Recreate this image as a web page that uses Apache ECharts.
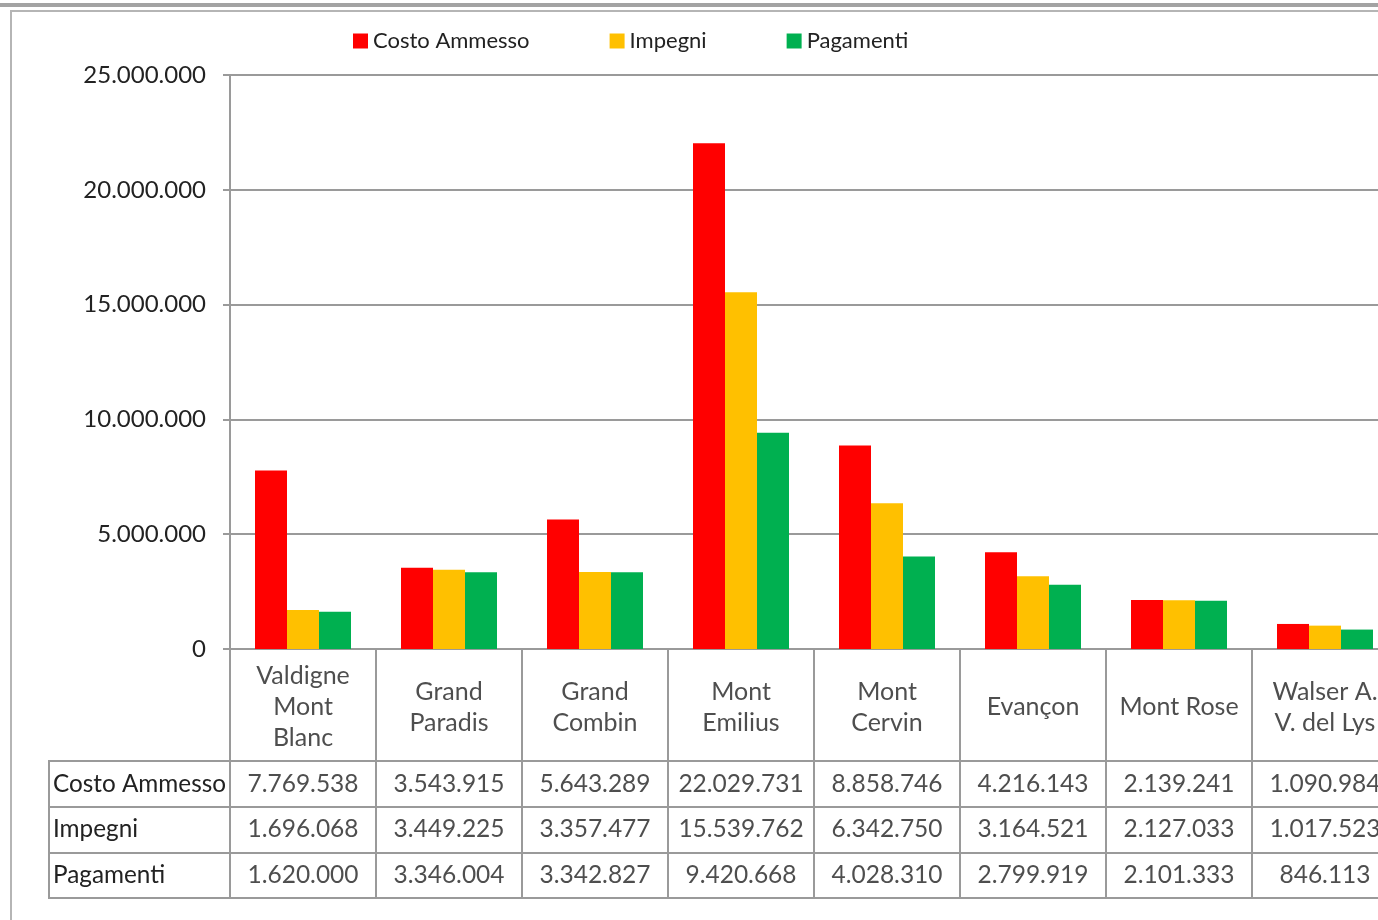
<!DOCTYPE html>
<html>
<head>
<meta charset="utf-8">
<script src="https://cdn.jsdelivr.net/npm/echarts@6/dist/echarts.min.js"></script>
<style>
html,body{margin:0;padding:0;overflow:hidden;background:#fff;}
#c{width:1400px;height:920px;}
</style>
</head>
<body>
<div id="c"></div>
<script>
const categories = ['Valdigne Mont Blanc','Grand Paradis','Grand Combin','Mont Emilius','Mont Cervin','Evançon','Mont Rose','Walser A. V. del Lys'];
const headerLabels = ['Valdigne\nMont\nBlanc','Grand\nParadis','Grand\nCombin','Mont\nEmilius','Mont\nCervin','Evançon','Mont Rose','Walser A.\nV. del Lys'];
const seriesNames = ['Costo Ammesso','Impegni','Pagamenti'];
const costoAmmesso = [7769538, 3543915, 5643289, 22029731, 8858746, 4216143, 2139241, 1090984];
const impegni = [1696068, 3449225, 3357477, 15539762, 6342750, 3164521, 2127033, 1017523];
const pagamenti = [1620000, 3346004, 3342827, 9420668, 4028310, 2799919, 2101333, 846113];
const yTicks = [0, 5000000, 10000000, 15000000, 20000000, 25000000];

const colors = ['#FF0000', '#FFC000', '#00B050'];
const allValues = [costoAmmesso, impegni, pagamenti];
const FONT = 'Lato';
const TXT = '#222';
const LINE = '#9a9a9a';

function fmt(v){ return String(Math.round(v)).replace(/\B(?=(\d{3})+(?!\d))/g, '.'); }

const chart = echarts.init(document.getElementById('c'));

const G = {left: 230, width: 1168};

const option = {
  animation: false,
  textStyle: {fontFamily: FONT},
  graphic: [
    {type: 'rect', shape: {x: 0, y: 3, width: 1400, height: 4}, style: {fill: '#a3a3a3'}, silent: true},
    {type: 'rect', shape: {x: 10, y: 10, width: 1390, height: 2}, style: {fill: '#b5b5b5'}, silent: true},
    {type: 'rect', shape: {x: 10, y: 10, width: 2, height: 920}, style: {fill: '#b5b5b5'}, silent: true}
  ],
  legend: {
    data: seriesNames,
    left: 353, top: 30, padding: 0,
    itemWidth: 15, itemHeight: 15, itemGap: 80,
    icon: 'rect',
    textStyle: {fontFamily: FONT, fontSize: 22, color: TXT}
  },
  grid: [
    {left: G.left, top: 75, width: G.width, height: 574},
    {left: G.left, top: 649, width: G.width, height: 112, show: true, borderColor: LINE, borderWidth: 2, backgroundColor: 'transparent'},
    {left: G.left, top: 761, width: G.width, height: 137, show: true, borderColor: LINE, borderWidth: 2, backgroundColor: 'transparent'},
    {left: 49, top: 761, width: 181, height: 137, show: true, borderColor: LINE, borderWidth: 2, backgroundColor: 'transparent'}
  ],
  xAxis: [
    {gridIndex: 0, type: 'category', data: categories, boundaryGap: true,
      axisLine: {show: true, lineStyle: {color: LINE, width: 2}}, axisTick: {show: false}, axisLabel: {show: false}, splitLine: {show: false}},
    {gridIndex: 1, type: 'category', data: categories, boundaryGap: true,
      axisLine: {show: false}, axisTick: {show: false}, axisLabel: {show: false},
      splitLine: {show: true, interval: 0, lineStyle: {color: LINE, width: 2}}},
    {gridIndex: 2, type: 'category', data: categories, boundaryGap: true,
      axisLine: {show: false}, axisTick: {show: false}, axisLabel: {show: false},
      splitLine: {show: true, interval: 0, lineStyle: {color: LINE, width: 2}}},
    {gridIndex: 3, type: 'value', show: false, min: 0, max: 1}
  ],
  yAxis: [
    {gridIndex: 0, type: 'value', min: 0, max: 25000000, interval: 5000000,
      axisLine: {show: true, lineStyle: {color: LINE, width: 2}},
      axisTick: {show: true, length: 7, lineStyle: {color: LINE, width: 2}},
      axisLabel: {margin: 24, fontFamily: FONT, fontSize: 24, color: TXT, formatter: v => fmt(v)},
      splitLine: {show: true, lineStyle: {color: LINE, width: 2}}},
    {gridIndex: 1, type: 'category', data: ['h'], show: false},
    {gridIndex: 2, type: 'category', data: seriesNames, inverse: true,
      axisLine: {show: false}, axisTick: {show: false}, axisLabel: {show: false},
      splitLine: {show: true, interval: 0, lineStyle: {color: LINE, width: 2}}},
    {gridIndex: 3, type: 'category', data: seriesNames, inverse: true,
      axisLine: {show: false}, axisTick: {show: false},
      axisLabel: {inside: true, margin: 4, align: 'left', verticalAlign: 'middle', fontFamily: FONT, fontSize: 24.3, color: TXT, padding: [0, 0, 4, 0]},
      splitLine: {show: true, interval: 0, lineStyle: {color: LINE, width: 2}}}
  ],
  series: [
    ...seriesNames.map((name, k) => ({
      name, type: 'bar', xAxisIndex: 0, yAxisIndex: 0,
      data: allValues[k], barWidth: 32, barGap: '0%',
      itemStyle: {color: colors[k]}
    })),
    {
      type: 'scatter', xAxisIndex: 1, yAxisIndex: 1, symbolSize: 1,
      itemStyle: {color: 'transparent'}, silent: true,
      data: categories.map((c, i) => [c, 'h']),
      label: {show: true, position: 'inside', offset: [0, 2], fontFamily: FONT, fontSize: 25, lineHeight: 31, color: TXT, align: 'center', verticalAlign: 'middle',
        formatter: p => headerLabels[p.dataIndex]}
    },
    ...seriesNames.map((name, k) => ({
      type: 'scatter', xAxisIndex: 2, yAxisIndex: 2, symbolSize: 1,
      itemStyle: {color: 'transparent'}, silent: true,
      data: categories.map((c, i) => [c, name, allValues[k][i]]),
      label: {show: true, position: 'inside', fontFamily: FONT, fontSize: 24.5, color: TXT, align: 'center', verticalAlign: 'middle',
        formatter: p => fmt(p.data[2])}
    }))
  ]
};
chart.setOption(option);
</script>
</body>
</html>
